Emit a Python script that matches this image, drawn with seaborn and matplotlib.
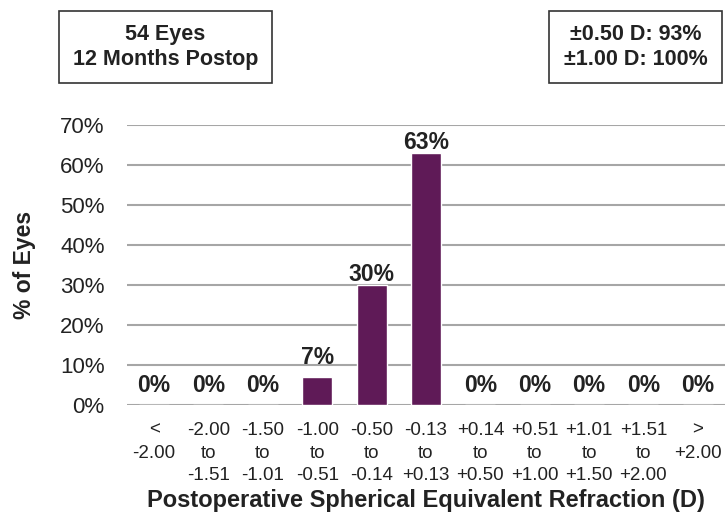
import numpy as np
import pandas as pd
import matplotlib
matplotlib.use("Agg")
import matplotlib.pyplot as plt
import matplotlib.patches as patches
import seaborn as sns

# -------------------------------
# Data
# -------------------------------
ranges = ["<\n-2.00", "-2.00\nto\n-1.51", "-1.50\nto\n-1.01", "-1.00\nto\n-0.51",
          "-0.50\nto\n-0.14", "-0.13\nto\n+0.13", "+0.14\nto\n+0.50", "+0.51\nto\n+1.00",
          "+1.01\nto\n+1.50", "+1.51\nto\n+2.00", ">\n+2.00"]
pct_eyes = [0, 0, 0, 7, 30, 63, 0, 0, 0, 0, 0]
y_ticks = [0, 10, 20, 30, 40, 50, 60, 70]
left_box = "54 Eyes\n12 Months Postop"
right_box = "\u00b10.50 D: 93%\n\u00b11.00 D: 100%"

df = pd.DataFrame({"range": ranges, "pct": pct_eyes})

sns.set_style("white")
plt.rcParams['font.family'] = ['Liberation Sans', 'DejaVu Sans']
txt = "#222222"

fig = plt.figure(figsize=(7.25, 5.26), dpi=100)
ax = fig.add_axes([0.175, 0.23, 0.825, 0.532])

sns.barplot(data=df, x="range", y="pct", color="#5F1A57", saturation=1,
            width=0.55, ax=ax, zorder=3)

ax.set_ylim(0, 70)
ax.set_xlim(-0.5, len(ranges) - 0.5)
ax.set_yticks(y_ticks)
ax.set_yticklabels([f"{t}%" for t in y_ticks], fontsize=16, color=txt)
ax.set_xticks(range(len(ranges)), labels=ranges, fontsize=13.5, color=txt)
plt.setp(ax.get_xticklabels(), linespacing=1.45)
ax.tick_params(axis="y", length=0, pad=16)
ax.tick_params(axis="x", length=0, pad=12)

ax.yaxis.grid(True, color="#A6A6A6", linewidth=1.5, zorder=0)
for s in ax.spines.values():
    s.set_visible(False)

# data labels
for i, v in enumerate(pct_eyes):
    off = 2.0 if v < 10 else -0.3
    ax.text(i, v + off, f"{v}%", ha="center", va="bottom",
            fontsize=16.5, fontweight="bold", color=txt)

ax.set_ylabel("% of Eyes", fontsize=16.5, fontweight="bold", labelpad=17, color=txt)
ax.set_xlabel("Postoperative Spherical Equivalent Refraction (D)", fontsize=17,
              fontweight="bold", labelpad=3, color=txt)

# info boxes
W, H = 725, 526
for (x0, x1), label in [((59, 272), left_box), ((549, 722), right_box)]:
    fig.patches.append(patches.Rectangle((x0 / W, 1 - 83 / H), (x1 - x0) / W, 72 / H,
                                         transform=fig.transFigure, facecolor="white",
                                         edgecolor="#333333", linewidth=1.2))
    fig.text((x0 + x1) / 2 / W, 1 - 47 / H, label, ha="center", va="center",
             fontsize=15.5, fontweight="bold", color=txt, linespacing=1.3)

plt.savefig("out.png", dpi=100)
